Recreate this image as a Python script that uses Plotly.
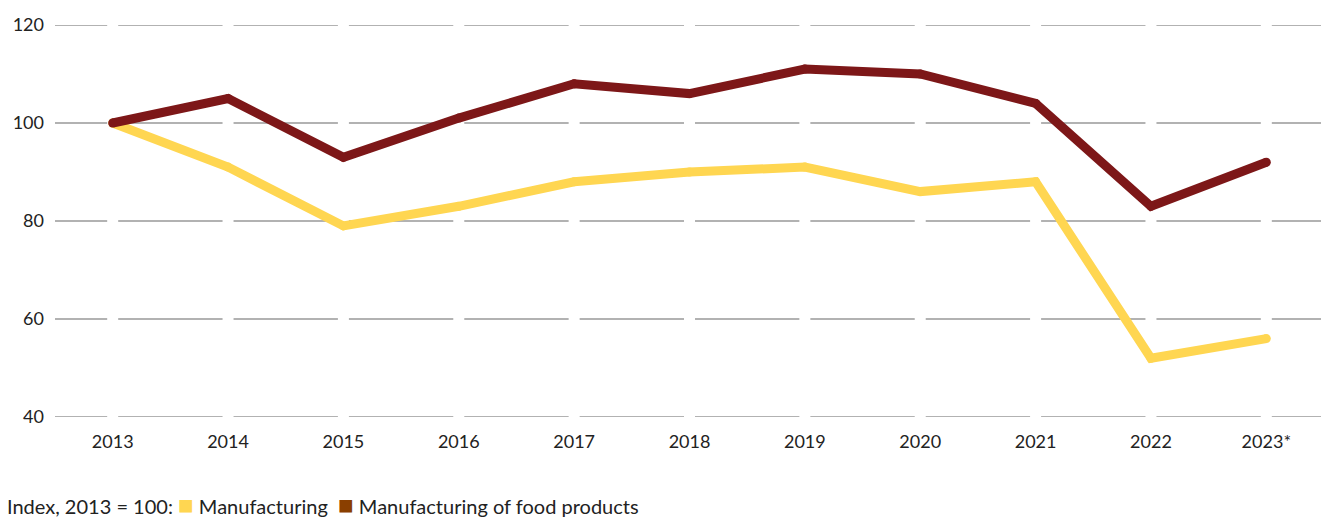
import plotly.graph_objects as go

years = ["2013", "2014", "2015", "2016", "2017", "2018", "2019", "2020", "2021", "2022", "2023*"]
manufacturing = [100, 91, 79, 83, 88, 90, 91, 86, 88, 52, 56]
food_products = [100, 105, 93, 101, 108, 106, 111, 110, 104, 83, 92]
y_ticks = [40, 60, 80, 100, 120]

YELLOW = "#ffd651"
DARKRED = "#7d1718"
LEGEND_BROWN = "#8a3f00"
FONT = "Lato"

fig = go.Figure()
for vals, color in [(manufacturing, YELLOW), (food_products, DARKRED)]:
    fig.add_trace(go.Scatter(
        x=years, y=vals, mode="lines+markers",
        line=dict(color=color, width=9),
        marker=dict(color=color, size=9, line=dict(width=0)),
        showlegend=False, hoverinfo="skip",
    ))

# horizontal gridlines (drawn as shapes so that they can be broken at each category)
for t in y_ticks:
    fig.add_shape(type="line", xref="x domain", yref="y", x0=0, x1=1, y0=t, y1=t,
                  line=dict(color="#999999", width=1.6), layer="below")
# white gaps in gridlines at each category
for i, yr in enumerate(years):
    fig.add_shape(type="line", xref="x", yref="y domain", x0=i, x1=i, y0=-0.02, y1=1.02,
                  line=dict(color="white", width=11), layer="below")

fig.add_annotation(
    xref="paper", yref="paper", x=-0.0392, y=-0.222, xanchor="left", yanchor="middle",
    showarrow=False, align="left",
    text=(f"Index, 2013 = 100: <span style='color:{YELLOW};font-size:26px'>■</span> Manufacturing"
          f"&nbsp; <span style='color:{LEGEND_BROWN};font-size:26px'>■</span> Manufacturing of food products"),
    font=dict(family=FONT, size=20, color="#222222"),
)

fig.update_layout(
    width=1321, height=512,
    margin=dict(l=44, r=5, t=13, b=103),
    paper_bgcolor="white", plot_bgcolor="white",
    font=dict(family=FONT, size=18, color="#222222"),
    xaxis=dict(type="category", range=[-0.5, 10.5], showgrid=False, showline=False,
               zeroline=False, ticks="", ticklabelstandoff=12, tickfont=dict(size=18)),
    yaxis=dict(range=[40, 120], tickvals=y_ticks, showgrid=False,
               zeroline=False, showline=False, ticks="",
               ticklabelstandoff=10, tickfont=dict(size=18)),
)

fig.write_html("out.html")
